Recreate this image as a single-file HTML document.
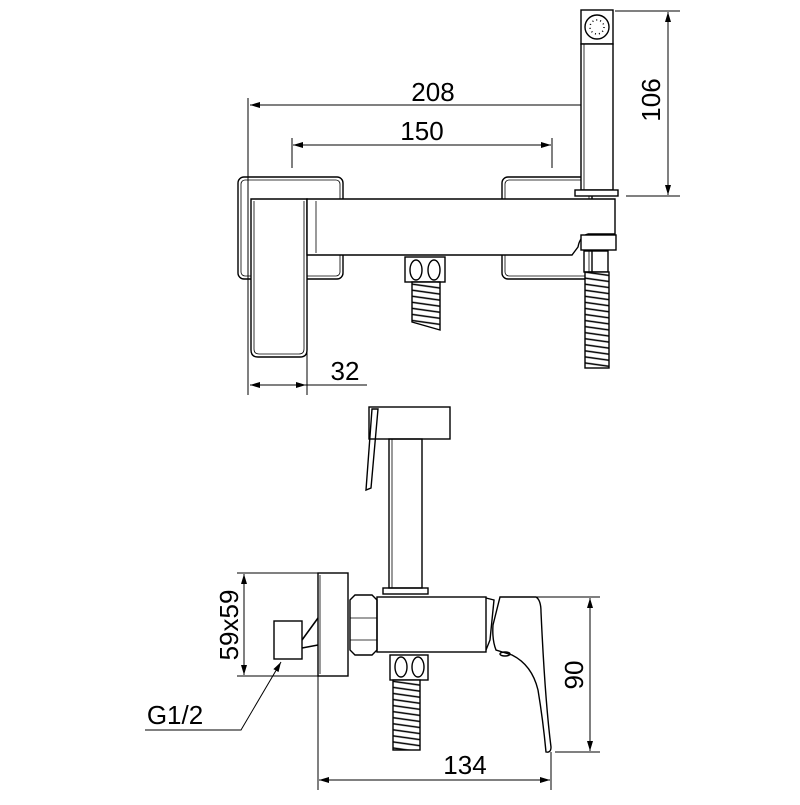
<!DOCTYPE html>
<html><head><style>html,body{margin:0;padding:0;background:#fff}</style></head><body>
<svg width="800" height="800" viewBox="0 0 800 800" xmlns="http://www.w3.org/2000/svg" font-family="Liberation Sans, sans-serif">
<defs>
<marker id="a" viewBox="0 0 10 6" refX="10" refY="3" markerWidth="10" markerHeight="6" orient="auto-start-reverse" markerUnits="userSpaceOnUse"><path d="M0,0 L10,3 L0,6z" fill="#000"/></marker>
<pattern id="hose" width="40" height="6" patternUnits="userSpaceOnUse" patternTransform="rotate(8)"><rect width="40" height="6" fill="#fff"/><line x1="0" y1="2" x2="40" y2="2" stroke="#000" stroke-width="1.6"/></pattern>
</defs>
<g fill="none" stroke="#000" stroke-width="1.4">
<!-- TOP VIEW -->
<line x1="248" y1="98" x2="248" y2="395" stroke-width="1"/>
<line x1="250" y1="105" x2="613" y2="105" stroke-width="1" marker-start="url(#a)" marker-end="url(#a)"/>
<line x1="292" y1="138" x2="292" y2="168" stroke-width="1"/>
<line x1="552" y1="138" x2="552" y2="168" stroke-width="1"/>
<line x1="293" y1="145" x2="551" y2="145" stroke-width="1" marker-start="url(#a)" marker-end="url(#a)"/>
<line x1="615" y1="11" x2="680" y2="11" stroke-width="1"/>
<line x1="626" y1="196" x2="680" y2="196" stroke-width="1"/>
<line x1="668" y1="12" x2="668" y2="195" stroke-width="1" marker-start="url(#a)" marker-end="url(#a)"/>
<line x1="307" y1="350" x2="307" y2="395" stroke-width="1"/>
<line x1="250" y1="385" x2="306" y2="385" stroke-width="1" marker-start="url(#a)" marker-end="url(#a)"/>
<line x1="306" y1="385" x2="367" y2="385" stroke-width="1"/>
<rect x="238" y="177" width="105" height="102" rx="6"/>
<rect x="241" y="180" width="99" height="96" rx="4" stroke-width="0.8"/>
<rect x="502" y="177" width="90" height="102" rx="6"/>
<rect x="505" y="180" width="84" height="96" rx="4" stroke-width="0.8"/>
<path d="M251,199 H307 V350 Q307,357 300,357 H258 Q251,357 251,350 Z" fill="#fff"/>
<path d="M254,201 V349 Q254,354 259,354 H299 Q304,354 304,349 V201" stroke-width="0.8"/>
<path d="M307,199 H615 V234 H588 Q580,236 578,247 L572,255 H307 Z" fill="#fff"/>
<line x1="316" y1="201" x2="316" y2="253" stroke-width="0.8"/>
<rect x="581" y="235" width="35" height="15" fill="#fff"/>
<rect x="581" y="10" width="32" height="34" fill="#fff"/>
<circle cx="597" cy="27" r="12"/>
<circle cx="597" cy="27" r="7" stroke-dasharray="1 3" stroke-width="1.5"/>
<rect x="581" y="44" width="32" height="146" fill="#fff"/>
<line x1="584" y1="44" x2="584" y2="190" stroke-width="0.8"/>
<rect x="575" y="190" width="43" height="6" fill="#fff"/>
<rect x="405" y="257" width="40" height="25"/>
<ellipse cx="416" cy="270" rx="6" ry="10"/>
<ellipse cx="434" cy="270" rx="6" ry="10"/>
<path d="M412,282 H440 V330 L412,322 Z" fill="url(#hose)"/>
<rect x="584" y="251" width="24" height="21"/>
<rect x="585" y="272" width="24" height="96" fill="url(#hose)"/>
<!-- BOTTOM VIEW -->
<rect x="369" y="407" width="81" height="32" fill="#fff"/>
<path d="M372,409 L378,409 L371,488 L366,490 Z"/>
<rect x="389" y="439" width="33" height="149"/>
<line x1="392" y1="439" x2="392" y2="588" stroke-width="0.8"/>
<rect x="383" y="588" width="45" height="6"/>
<rect x="377" y="597" width="109" height="55"/>
<path d="M350,600 L355,595 H372 L377,600 V650 L372,655 H355 L350,650 Z"/>
<line x1="350" y1="618" x2="377" y2="618" stroke-width="0.8"/>
<line x1="350" y1="640" x2="377" y2="640" stroke-width="0.8"/>
<rect x="318" y="573" width="30" height="103"/>
<line x1="320" y1="575" x2="320" y2="674" stroke-width="0.8"/>
<rect x="274" y="621" width="28" height="38"/>
<path d="M302,640 L318,618 M302,648 L318,645" stroke-width="1.6"/>
<rect x="390" y="655" width="38" height="25"/>
<ellipse cx="401" cy="667" rx="6" ry="10"/>
<ellipse cx="418" cy="667" rx="6" ry="10"/>
<rect x="393" y="680" width="27" height="70" fill="url(#hose)"/>
<path d="M486,598 L494,600 L490,640 L486,650"/>
<path d="M500,597 H536 Q541,600 541,612 Q545,700 551,747 Q551,753 546,752 Q543,720 538,690 Q532,665 512,655 L496,650 Q492,640 493,625 Z" fill="#fff"/>
<ellipse cx="505" cy="654" rx="5" ry="2"/>
<line x1="237" y1="573" x2="318" y2="573" stroke-width="1"/>
<line x1="237" y1="676" x2="318" y2="676" stroke-width="1"/>
<line x1="244" y1="574" x2="244" y2="675" stroke-width="1" marker-start="url(#a)" marker-end="url(#a)"/>
<polyline points="145,730 241,730 281,662" stroke-width="1" marker-end="url(#a)"/>
<line x1="500" y1="597" x2="600" y2="597" stroke-width="1"/>
<line x1="555" y1="752" x2="600" y2="752" stroke-width="1"/>
<line x1="590" y1="598" x2="590" y2="751" stroke-width="1" marker-start="url(#a)" marker-end="url(#a)"/>
<line x1="318" y1="676" x2="318" y2="790" stroke-width="1"/>
<line x1="551" y1="752" x2="551" y2="790" stroke-width="1"/>
<line x1="319" y1="780" x2="550" y2="780" stroke-width="1" marker-start="url(#a)" marker-end="url(#a)"/>
</g>
<g font-size="26" fill="#000">
<text x="433" y="101" text-anchor="middle">208</text>
<text x="422" y="140" text-anchor="middle">150</text>
<text x="345" y="380" text-anchor="middle">32</text>
<text x="465" y="774" text-anchor="middle">134</text>
<text x="175" y="724" text-anchor="middle">G1/2</text>
<text transform="translate(660,100) rotate(-90)" text-anchor="middle">106</text>
<text transform="translate(238,625) rotate(-90)" text-anchor="middle">59x59</text>
<text transform="translate(583,675) rotate(-90)" text-anchor="middle">90</text>
</g>
</svg>
</body></html>
